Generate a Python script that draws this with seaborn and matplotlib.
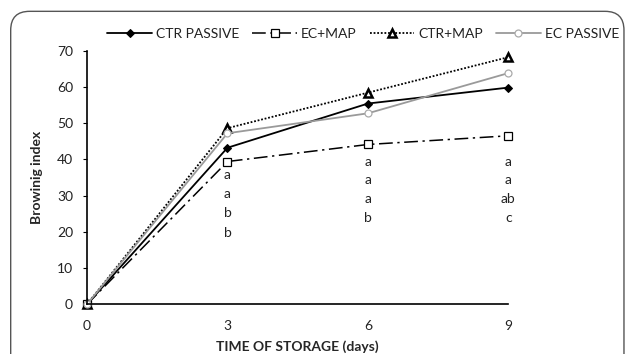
import matplotlib
matplotlib.use("Agg")
import matplotlib.pyplot as plt
import seaborn as sns
import pandas as pd
from matplotlib.patches import FancyBboxPatch

days = [0, 3, 6, 9]
ctr_passive = [0, 43.2, 55.4, 59.8]
ec_map = [0, 39.4, 44.1, 46.5]
ctr_map = [0, 48.6, 58.4, 68.2]
ec_passive = [0, 47.2, 52.7, 63.8]

letters_day3 = ["a", "a", "b", "b"]
letters_day6 = ["a", "a", "a", "b"]
letters_day9 = ["a", "a", "ab", "c"]
letters_y_day3 = [35.7, 30.4, 25.2, 19.7]
letters_y_day69 = [39.3, 34.3, 29.1, 23.8]

sns.set_theme(style="white")
plt.rcParams['font.family'] = ['Lato', 'DejaVu Sans']

fig = plt.figure(figsize=(6.29, 3.54), dpi=100)
ax = fig.add_axes([0.1383, 0.1404, 0.8083 - 0.1383, 0.857 - 0.1404])

# rounded frame (bottom edge runs off the image as in the reference)
frame = FancyBboxPatch((0.017, -0.2), 0.975, 1.168, boxstyle="round,pad=0,rounding_size=0.03",
                       transform=fig.transFigure, fill=False, edgecolor="#555555", lw=1.0,
                       mutation_aspect=629/354, zorder=0)
fig.patches.append(frame)

series = [
    ("CTR PASSIVE", ctr_passive, dict(color="black", linestyle="-", lw=1.3, marker="D", markersize=4.5,
                                      markerfacecolor="black", markeredgecolor="black")),
    ("EC+MAP", ec_map, dict(color="black", linestyle=(0, (9, 3, 1.5, 3)), lw=1.1, marker="s", markersize=5.5,
                            markerfacecolor="white", markeredgecolor="black", markeredgewidth=0.9)),
    ("CTR+MAP", ctr_map, dict(color="black", linestyle=(0, (1, 1)), lw=1.3, marker="^", markersize=6,
                              markerfacecolor="white", markeredgecolor="black", markeredgewidth=1.8)),
    ("EC PASSIVE", ec_passive, dict(color="#9a9a9a", linestyle="-", lw=1.3, marker="o", markersize=5,
                                    markerfacecolor="white", markeredgecolor="#aaaaaa", markeredgewidth=0.9)),
]

for name, vals, kw in series:
    df = pd.DataFrame({"day": days, "val": vals})
    sns.lineplot(data=df, x="day", y="val", ax=ax, label=name, **kw)

for t, yy in zip(letters_day3, letters_y_day3):
    ax.text(3, yy, t, ha="center", va="center", fontsize=10, color="#222222")
for t, yy in zip(letters_day6, letters_y_day69):
    ax.text(6, yy, t, ha="center", va="center", fontsize=10, color="#222222")
for t, yy in zip(letters_day9, letters_y_day69):
    ax.text(9, yy, t, ha="center", va="center", fontsize=10, color="#222222")

ax.set_xlim(0, 9)
ax.set_ylim(0, 70)
ax.set_xticks(days)
ax.set_yticks(range(0, 71, 10))
ax.tick_params(axis="x", direction="in", length=4, width=0.8, color="#888888", labelsize=10, pad=11)
ax.tick_params(axis="y", direction="out", length=3, width=0.8, color="black", labelsize=10, pad=7, left=True)
for s in ["top", "right"]:
    ax.spines[s].set_visible(False)
for s in ["left", "bottom"]:
    ax.spines[s].set_color("black")
    ax.spines[s].set_linewidth(1.2)
for lbl in ax.get_xticklabels() + ax.get_yticklabels():
    lbl.set_color("#222222")

ax.set_xlabel("TIME OF STORAGE (days)", fontsize=10, fontweight="bold", labelpad=6)
ax.set_ylabel("Browinig index", fontsize=10, fontweight="bold", labelpad=10)

leg = ax.legend(loc="lower left", bbox_to_anchor=(0.035, 1.02), ncol=4, frameon=False,
                fontsize=10, handlelength=3.2, columnspacing=0.95, handletextpad=0.3, borderaxespad=0)
for t in leg.get_texts():
    t.set_color("#222222")

for line in ax.get_lines():
    line.set_clip_on(False)

fig.savefig("out.png", dpi=100)
